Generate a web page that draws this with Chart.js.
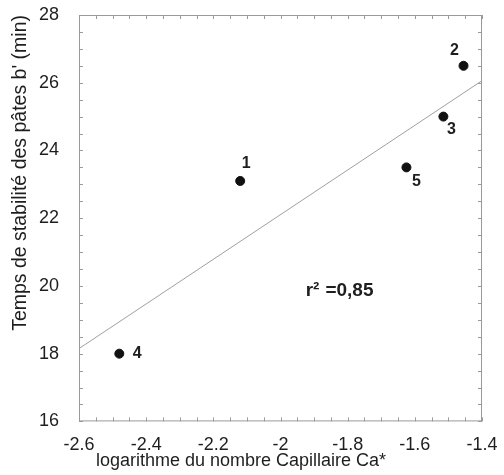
<!DOCTYPE html>
<html>
<head>
<meta charset="utf-8">
<script src="https://cdn.jsdelivr.net/npm/chart.js@4"></script>
<style>
  html, body { margin: 0; padding: 0; background: #fff; }
  #wrap { width: 504px; height: 475px; }
</style>
</head>
<body>
<div id="wrap"><canvas id="ca-chart"></canvas></div>
<script>
// samples: log10 of capillary number vs paste stability time b'
const sampleIds = ['1', '2', '3', '4', '5'];
const logCa = [-2.12, -1.455, -1.515, -2.48, -1.625];
const stabTime = [23.1, 26.5, 25.0, 18.0, 23.5];

// linear fit drawn across the axis
const fitX = [-2.6, -1.4];
const fitY = [18.15, 26.06];
const r2Parts = ['r\u00b2', '=0,85'];

// where each sample number sits relative to its dot (px)
const idOffsets = [[6, -17], [-9, -15], [8, 13], [18, 0], [10, 14]];

const frameColor = '#9a9a9a';
const textColor = '#1e1e1e';

// frame + inward ticks on all four sides, sample numbers, r2 note
const decorations = {
    id: 'decorations',
    afterDatasetsDraw(chart) {
        const ctx = chart.ctx;
        const a = chart.chartArea;
        const xs = chart.scales.x;
        const ys = chart.scales.y;
        const tl = 4;
        ctx.save();
        ctx.strokeStyle = frameColor;
        ctx.lineWidth = 1;
        ctx.strokeRect(a.left + 0.5, a.top + 0.5, a.right - a.left - 1, a.bottom - a.top - 1);
        ctx.beginPath();
        for (let i = 0; i <= 24; i++) {
            const px = Math.round(xs.getPixelForValue(-2.6 + i * 0.05)) + 0.5;
            ctx.moveTo(px, a.bottom); ctx.lineTo(px, a.bottom - tl);
            ctx.moveTo(px, a.top); ctx.lineTo(px, a.top + tl);
        }
        for (let i = 0; i <= 24; i++) {
            const py = Math.round(ys.getPixelForValue(16 + i * 0.5)) + 0.5;
            ctx.moveTo(a.left, py); ctx.lineTo(a.left + tl, py);
            ctx.moveTo(a.right, py); ctx.lineTo(a.right - tl, py);
        }
        ctx.stroke();

        const pts = chart.getDatasetMeta(1).data;
        ctx.fillStyle = textColor;
        ctx.font = 'bold 16px "Liberation Sans", Arial, sans-serif';
        ctx.textAlign = 'center';
        ctx.textBaseline = 'middle';
        pts.forEach((p, i) => {
            ctx.fillText(sampleIds[i], p.x + idOffsets[i][0], p.y + idOffsets[i][1]);
        });

        // r2 note, with the little gap before the equals sign
        ctx.font = 'bold 19px "Liberation Sans", Arial, sans-serif';
        ctx.textAlign = 'left';
        const rx = xs.getPixelForValue(-1.925);
        const ry = ys.getPixelForValue(19.85);
        ctx.fillText(r2Parts[0], rx, ry);
        ctx.fillText(r2Parts[1], rx + ctx.measureText(r2Parts[0]).width + 6, ry);
        ctx.restore();
    }
};

new Chart(document.getElementById('ca-chart'), {
    type: 'scatter',
    data: {
        datasets: [
            {
                type: 'line',
                data: fitX.map((x, i) => ({ x: x, y: fitY[i] })),
                borderColor: '#a0a0a0',
                borderWidth: 1,
                pointRadius: 0,
                fill: false,
            },
            {
                data: logCa.map((x, i) => ({ x: x, y: stabTime[i] })),
                backgroundColor: '#111',
                borderColor: '#111',
                pointRadius: 4.5,
                pointHoverRadius: 4.5,
            }
        ]
    },
    options: {
        responsive: true,
        maintainAspectRatio: false,
        animation: false,
        events: [],
        layout: { padding: { top: 15, right: 22, left: 0, bottom: 0 } },
        plugins: {
            legend: { display: false },
            tooltip: { enabled: false },
            title: {
                display: true,
                position: 'bottom',
                text: 'logarithme du nombre Capillaire Ca*',
                color: textColor,
                font: { family: '"Liberation Sans", Arial, sans-serif', size: 18, weight: 'normal' },
                padding: { top: 0, bottom: 3 },
            },
        },
        scales: {
            x: {
                type: 'linear',
                min: -2.6,
                max: -1.4,
                grid: { display: false },
                border: { display: false },
                ticks: {
                    stepSize: 0.2,
                    autoSkip: false,
                    maxRotation: 0,
                    padding: 5,
                    color: textColor,
                    font: { family: '"Liberation Sans", Arial, sans-serif', size: 18 },
                    callback: (v) => (Math.abs(v - Math.round(v)) < 1e-6 ? String(Math.round(v)) : v.toFixed(1)),
                },
                afterFit: (s) => { s.height = 29; },
            },
            y: {
                min: 16,
                max: 28,
                grid: { display: false },
                border: { display: false },
                title: {
                    display: true,
                    text: "Temps de stabilité des pâtes b' (min)",
                    align: 'end',
                    color: textColor,
                    font: { family: '"Liberation Sans", Arial, sans-serif', size: 19.5 },
                    padding: { top: 9, bottom: 0 },
                },
                ticks: {
                    stepSize: 2,
                    padding: 12,
                    color: textColor,
                    font: { family: '"Liberation Sans", Arial, sans-serif', size: 18 },
                },
                afterFit: (s) => {
                    s.width = 79;
                    s.paddingTop = 0;
                    s.paddingBottom = 0;
                },
            }
        }
    },
    plugins: [decorations]
});
</script>
</body>
</html>
